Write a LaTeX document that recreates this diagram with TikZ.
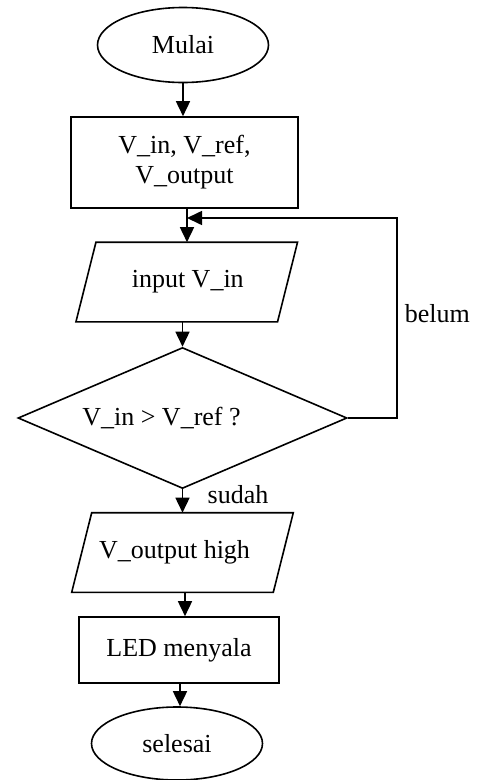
\documentclass[tikz,border=0pt]{standalone}
\usepackage{fontspec}
\setmainfont{Liberation Serif}
\usetikzlibrary{shapes.geometric,arrows.meta}
\begin{document}
\begin{tikzpicture}[x=1pt,y=-1pt,
  font=\fontsize{26}{30}\selectfont,
  line width=1.6pt,
  every node/.style={inner sep=0pt, align=center},
  terminal/.style={draw, line width=1.6pt, ellipse, minimum width=171pt, minimum height=75pt},
  process/.style={draw, line width=1.6pt, rectangle},
  io/.style={rectangle, minimum width=200pt, minimum height=78pt},
  iobox/.style={line width=1.6pt, line join=miter},
  decision/.style={draw, line width=1.6pt, diamond, aspect=2.33, minimum width=329pt, minimum height=141pt},
  flow/.style={line width=1.6pt, -{Triangle[width=14pt,length=15pt]}}]
\useasboundingbox (0,0) rectangle (486,780);

\node[terminal] (start) at (183,45) {Mulai};
\node[process, minimum width=227pt, minimum height=91pt] (init) at (184.5,162.5)
  {V\_in, V\_ref,\\V\_output};
\node[io] (inp) at (186.75,282) {input V\_in\hspace*{-2pt}};
\node[decision] (dec) at (182.5,418) {V\_in > V\_ref ?\hspace*{42pt}};
\node[io] (outp) at (182.5,552.5) {V\_output high\hspace*{16pt}};
\node[process, minimum width=200pt, minimum height=66pt] (led) at (179,650) {LED menyala};
\node[terminal, minimum height=73pt] (stop) at (177,743.5) {selesai};

% slanted outlines of the two input/output boxes
\draw[iobox] ([xshift=10pt]inp.north west) -- ([xshift=10pt]inp.north east)
  -- ([xshift=-10pt]inp.south east) -- ([xshift=-10pt]inp.south west) -- cycle;
\draw[iobox] ([xshift=10pt]outp.north west) -- ([xshift=10pt]outp.north east)
  -- ([xshift=-10pt]outp.south east) -- ([xshift=-10pt]outp.south west) -- cycle;

\coordinate (join) at (187,218);
\coordinate (loopr) at (397,418);

\draw[flow] (start.south) -- (start.south |- init.north);
\draw[flow] (join |- init.south) -- (join |- inp.north);
\draw[flow] (inp.south -| dec.north) -- (dec.north);
\draw[flow] (dec.south) -- (dec.south |- outp.north);
\draw[flow] (outp.south -| 185,0) -- (led.north -| 185,0);
\draw[flow] (led.south -| 180,0) -- (stop.north -| 180,0);
\draw[flow] (dec.east) -- (loopr) |- (join);

\node[anchor=west] (no) at (404,314) {belum};
\node (yes) at (238,495) {sudah};
\end{tikzpicture}
\end{document}
